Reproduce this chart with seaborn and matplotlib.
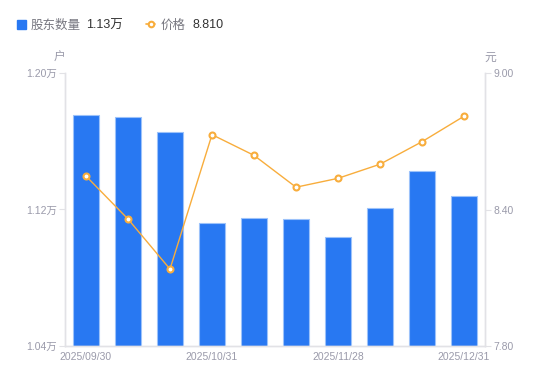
import matplotlib
matplotlib.use("Agg")
import matplotlib.pyplot as plt
from matplotlib.patches import Rectangle
from matplotlib.lines import Line2D
import numpy as np
import pandas as pd
import seaborn as sns

# Data (holders in 万, price in 元)
dates = ["2025/09/30", "2025/10/10", "2025/10/20", "2025/10/31", "2025/11/10",
         "2025/11/20", "2025/11/28", "2025/12/10", "2025/12/20", "2025/12/31"]
holders = [1.1756, 1.1740, 1.1652, 1.1119, 1.1148, 1.1145, 1.1037, 1.1209, 1.1424, 1.1277]
price = [8.547, 8.358, 8.138, 8.729, 8.638, 8.498, 8.537, 8.599, 8.698, 8.810]
shown_ticks = [0, 3, 6, 9]

sns.set_theme(style="white")
plt.rcParams["font.family"] = ["Liberation Sans", "Noto Sans CJK SC", "DejaVu Sans"]
cjk = ["Noto Sans CJK SC", "DejaVu Sans"]

blue = "#2878F2"
orange = "#F8AD3C"
grey_txt = "#9A9AAA"
axis_col = "#E2E2E6"

df = pd.DataFrame({"date": dates, "holders": holders, "price": price})

fig = plt.figure(figsize=(5.5, 3.81), dpi=100)
ax = fig.add_axes([65 / 550, 35 / 381, 420 / 550, 273 / 381])

sns.barplot(data=df, x="date", y="holders", ax=ax, color=blue, width=0.6,
            edgecolor="#9cc2fa", linewidth=0.8, saturation=1)
ax.set_ylim(1.04, 1.20)
ax.set_yticks([1.04, 1.12, 1.20])
ax.set_yticklabels(["1.04万", "1.12万", "1.20万"])
ax.set_xlim(-0.5, 9.5)
ax.set_xticks(shown_ticks)
ax.set_xticklabels([dates[i] for i in shown_ticks])
ax.set_xlabel("")
ax.set_ylabel("")

ax2 = ax.twinx()
sns.lineplot(x=np.arange(len(price)), y=price, ax=ax2, color=orange, linewidth=1,
             marker="o", markersize=4.3, markerfacecolor="white",
             markeredgecolor=orange, markeredgewidth=1.5)
ax2.set_ylim(7.80, 9.00)
ax2.set_yticks([7.80, 8.40, 9.00])
ax2.set_yticklabels(["7.80", "8.40", "9.00"])
ax2.set_xlim(-0.5, 9.5)

for a in (ax, ax2):
    for s in a.spines.values():
        s.set_color(axis_col)
        s.set_linewidth(1)
    a.spines["top"].set_visible(False)
    a.grid(False)
    a.tick_params(colors=grey_txt, labelsize=7.5, length=4, width=0.8, pad=2)
    a.tick_params(axis="y", color=axis_col, labelcolor=grey_txt)
ax.tick_params(axis="x", length=0, pad=4)

fig.text(60 / 550, 1 - 57 / 381, "户", color=grey_txt, fontsize=8.5, ha="center",
         va="center", family=cjk)
fig.text(490 / 550, 1 - 57 / 381, "元", color=grey_txt, fontsize=8.5, ha="center",
         va="center", family=cjk)

# legend
ly = 1 - 24 / 381
by = 1 - 28.5 / 381
fig.add_artist(Rectangle((17 / 550, 1 - 29 / 381), 9 / 550, 9 / 381,
                         transform=fig.transFigure, color=blue))
fig.text(31 / 550, by, "股东数量", color="#777780", fontsize=9, va="baseline", family=cjk)
fig.text(86 / 550, by, "1.13万", color="#333333", fontsize=9, va="baseline")
fig.add_artist(Line2D([146 / 550, 155 / 550], [ly, ly], transform=fig.transFigure,
                      color=orange, linewidth=1.2))
fig.add_artist(Line2D([150.5 / 550], [ly], transform=fig.transFigure, color=orange,
                      marker="o", markersize=4, markerfacecolor="white",
                      markeredgewidth=1.5))
fig.text(161 / 550, by, "价格", color="#777780", fontsize=9, va="baseline", family=cjk)
fig.text(192 / 550, by, "8.810", color="#333333", fontsize=9, va="baseline")

fig.savefig("out.png", dpi=100)
